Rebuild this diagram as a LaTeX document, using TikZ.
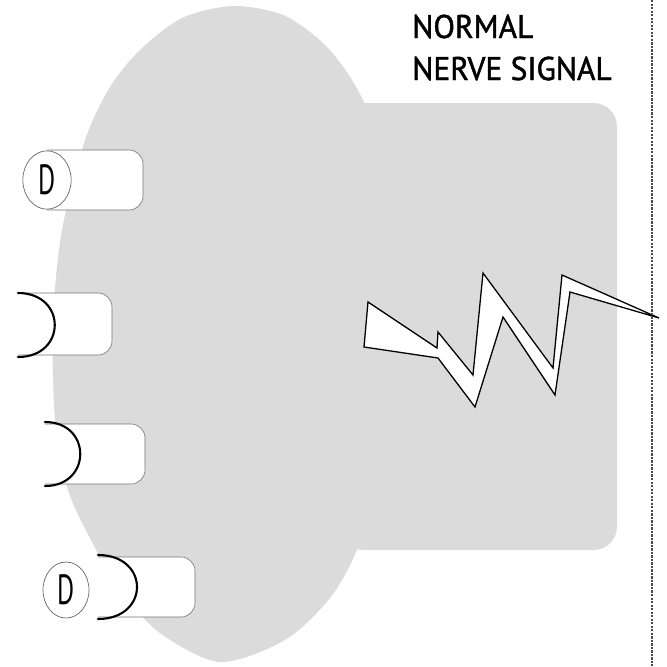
\documentclass[tikz,border=0pt]{standalone}
\usepackage{fontspec}
\usepackage{graphicx}
\newfontfamily\signalfont[FakeStretch=0.96, FakeBold=1.4]{PT Sans}
\newfontfamily\letterfont{PT Sans}
\usetikzlibrary{shapes.geometric}

\begin{document}
\begin{tikzpicture}[
    x=0.03cm, y=-0.03cm,
    cell/.style={fill=black!14},
    receptor/.style={draw=black!55, fill=white, line width=0.5pt, rounded corners=12pt},
    cup/.style={draw=black, line width=1.8pt, line cap=round},
    dopamine/.style={ellipse, draw=black!60, fill=white, line width=0.6pt, inner sep=0pt,
      minimum width=1.45cm, minimum height=1.75cm,
      font=\letterfont\fontsize{36}{36}\selectfont},
    bolt/.style={draw=black, fill=white, line width=1.1pt, line join=miter},
    heading/.style={anchor=base west, inner sep=0pt,
      font=\signalfont\fontsize{28}{34}\selectfont},
    divider/.style={draw=black!70, dash pattern=on 2pt off 1pt, line width=0.9pt}
  ]
    \useasboundingbox (0,0) rectangle (667,666);

    % cell body: rounded blob plus the wide part on the right
    \fill[cell] plot[smooth cycle] coordinates {
      (233,6) (283,15) (323,43) (352,80) (372,125) (387,220) (390,350) (380,480)
      (357,550) (330,598) (285,640) (220,662) (160,633) (120,590) (92,542)
      (68,490) (55,420) (53,320) (62,230) (85,140) (110,87) (140,50) (182,18)};
    \fill[cell, rounded corners=20pt] (340,103) rectangle (617,550);

    % receptors
    \filldraw[receptor] (47,150) -- (143,150) -- (143,210) -- (47,210);
    \node[dopamine] (dtop) at (47,180) {\scalebox{0.62}[1]{D}};

    \filldraw[receptor] (18,293) -- (112,293) -- (112,355) -- (18,355);
    \draw[cup] (18,293) .. controls (67,293) and (67,357) .. (18,357);

    \filldraw[receptor] (45,424) -- (145,424) -- (145,484) -- (45,484);
    \draw[cup] (45,422) .. controls (92,422) and (92,486) .. (45,486);

    \filldraw[receptor] (98,557) -- (195,557) -- (195,617) -- (98,617);
    \draw[cup] (98,555) .. controls (150,555) and (150,619) .. (98,619);
    \node[dopamine, minimum width=1.38cm, minimum height=1.68cm] (dlow) at (66,590)
      {\scalebox{0.62}[1]{D}};

    % the signal
    \draw[bolt] (368,302) -- (437,348) -- (438,332) -- (473,375) -- (483,273)
      -- (553,368) -- (562,275) -- (659,318) -- (570,292) -- (555,395)
      -- (503,317) -- (475,407) -- (438,358) -- (364,347) -- cycle;

    \node[heading] (normal) at (412,38) {NORMAL};
    \node[heading] (nervesignal) at (412,80) {NERVE SIGNAL};

    \draw[divider] (652,0) -- (652,666);
  \end{tikzpicture}
\end{document}
